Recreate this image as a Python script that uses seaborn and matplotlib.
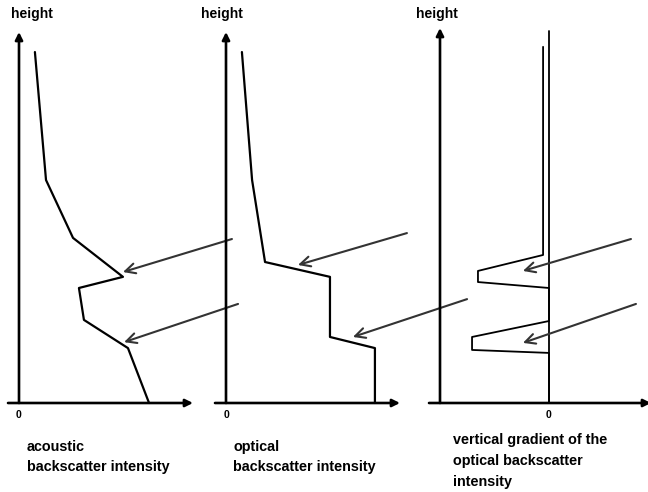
import matplotlib
matplotlib.use("Agg")
import matplotlib.pyplot as plt
import seaborn as sns
import pandas as pd

# Acoustic backscatter intensity profile (intensity vs. height, arbitrary units)
acoustic_height = [9.46, 6.01, 4.45, 3.40, 3.10, 2.24, 1.48, 0.0]
acoustic_intensity = [0.86, 1.46, 2.92, 5.62, 3.24, 3.51, 5.89, 7.03]

# Optical backscatter intensity profile
optical_height = [9.46, 6.01, 3.80, 3.40, 1.78, 1.48, 0.0]
optical_intensity = [0.86, 1.41, 2.11, 5.62, 5.62, 8.05, 8.05]

# Vertical gradient of the optical backscatter intensity
gradient_height = [9.60, 3.99, 3.56, 3.26, 3.10, 2.21, 1.78, 1.43, 1.35, 0.0]
gradient_value = [-0.32, -0.32, -3.84, -3.84, 0.0, 0.0, -4.16, -4.16, 0.0, 0.0]

panel_titles = [
    "acoustic\nbackscatter intensity",
    "optical\nbackscatter intensity",
    "vertical gradient of the\noptical backscatter\nintensity",
]

sns.set_theme(style="white")
plt.rcParams["font.family"] = ["Liberation Sans", "DejaVu Sans"]
plt.rcParams["font.weight"] = "bold"
plt.rcParams["text.color"] = "black"

W, H = 648, 492
XS, YS = 18.5, 37.1          # pixels per data unit (x, y)
BASE = 403                   # pixel row of the horizontal axes


def rect(l, r, t, b):
    return [l / W, 1 - b / H, (r - l) / W, (b - t) / H]


fig = plt.figure(figsize=(W / 100, H / 100), dpi=100)

# (y-axis px, x-axis start px, x-axis end px, y-axis top px, data-zero px, zero-line top px)
layout = [
    (19, 8, 193, 32, 19, None),
    (226, 215, 400, 32, 226, None),
    (440, 429, 651, 28, 549, 31),
]

frames = [
    pd.DataFrame({"value": acoustic_intensity, "height": acoustic_height}),
    pd.DataFrame({"value": optical_intensity, "height": optical_height}),
    pd.DataFrame({"value": gradient_value, "height": gradient_height}),
]
line_widths = [1.6, 1.6, 1.3]

# arrows pointing at the layers: (tail x, tail y, head x, head y) in each panel's units
pointers = [
    [(11.51, 4.42, 5.62, 3.53), (11.84, 2.67, 5.68, 1.64)],
    [(9.78, 4.58, 3.89, 3.72), (13.03, 2.80, 6.86, 1.78)],
    [(4.43, 4.42, -1.41, 3.56), (4.70, 2.67, -1.41, 1.62)],
]

axis_arrow = dict(arrowstyle="-|>", color="black", lw=1.9,
                  mutation_scale=11, shrinkA=0, shrinkB=0)
pointer_arrow = dict(arrowstyle="->", color="#333333", lw=1.5,
                     mutation_scale=18, shrinkA=0, shrinkB=0)

for i, (yax, xl, xr, top, zero, zline) in enumerate(layout):
    ax = fig.add_axes(rect(xl, xr, top, BASE))
    x0, x1 = (xl - zero) / XS, (xr - zero) / XS
    y1 = (BASE - top) / YS
    ax.set_xlim(x0, x1)
    ax.set_ylim(0, y1)
    ax.set_axis_off()

    # axes with arrow heads
    ax.annotate("", xy=(x1, 0), xytext=(x0, 0), arrowprops=axis_arrow,
                annotation_clip=False)
    yx = (yax - zero) / XS
    ax.annotate("", xy=(yx, y1), xytext=(yx, 0), arrowprops=axis_arrow,
                annotation_clip=False)

    if zline is not None:
        ax.plot([0, 0], [0, (BASE - zline) / YS], color="black",
                lw=line_widths[i], clip_on=False)

    sns.lineplot(data=frames[i], x="value", y="height", sort=False,
                 estimator=None, color="black", lw=line_widths[i], ax=ax)
    for line in ax.get_lines():
        line.set_clip_on(False)

    for tx, ty, hx, hy in pointers[i]:
        ax.annotate("", xy=(hx, hy), xytext=(tx, ty), arrowprops=pointer_arrow,
                    annotation_clip=False)


def ftext(x, y, s, **kw):
    fig.text(x / W, 1 - y / H, s, va="center", fontweight="bold",
             color="black", **kw)


for cx in (31.5, 222, 437):
    ftext(cx, 14, "height", ha="center", fontsize=10)

for cx in (18, 226, 549):
    ftext(cx, 415, "0", ha="center", fontsize=7.5)

ftext(27, 457, panel_titles[0], ha="left", fontsize=10.4, linespacing=1.62)
ftext(233, 457, panel_titles[1], ha="left", fontsize=10.4, linespacing=1.62)
ftext(453, 461, panel_titles[2], ha="left", fontsize=10.4, linespacing=1.62)

fig.savefig("out.png", dpi=100)
